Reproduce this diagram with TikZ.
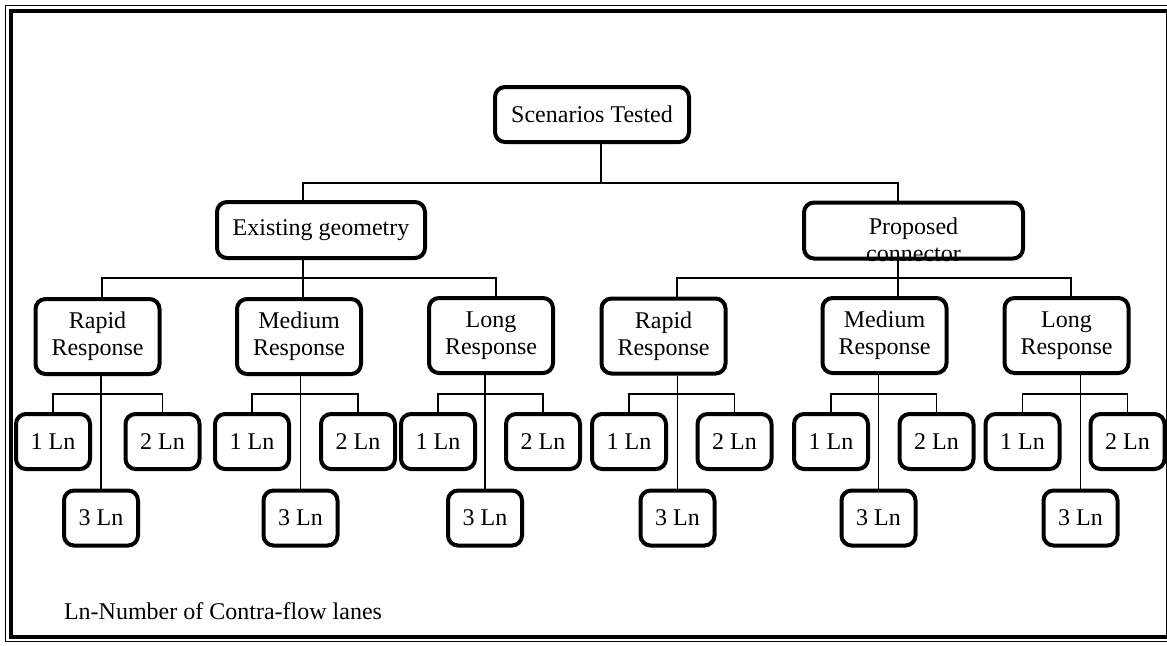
\documentclass[tikz,border=0pt]{standalone}
\usepackage{fontspec}
\setmainfont{Liberation Serif}
\usetikzlibrary{positioning,calc}

\begin{document}
\begin{tikzpicture}[
    x=0.5pt, y=-0.5pt,
    font=\fontsize{12}{13.5}\selectfont,
    % Stil für alle Boxen
    tbox/.style={
      rectangle,
      rounded corners=5pt,
      draw=black,
      line width=2pt,
      fill=white,
      align=center,
      inner sep=1pt
    },
    % Oberste Box
    topbox/.style={tbox, minimum width=97pt, minimum height=27.5pt},
    % Geometrie-Boxen
    geobox/.style={tbox, minimum width=104pt, minimum height=28pt},
    % Reaktions-Boxen
    respbox/.style={tbox, minimum width=62pt, minimum height=37.5pt},
    % Fahrstreifen-Boxen
    lnbox/.style={tbox, minimum width=37pt, minimum height=27.5pt},
    % Verbindungslinien
    conn/.style={line width=0.6pt}
  ]

  % --- RAHMEN ---
  \clip (0,0) rectangle (1167,645);
  \useasboundingbox (0,0) rectangle (1167,645);
  \draw[line width=0.5pt] (5.5,5) rectangle (1180,641.5);
  \draw[line width=1.75pt] (11,11) rectangle (1180,637);
  \draw[line width=0.5pt] (1166,11) -- (1166,637);

  % --- KNOTEN ---
  \node[topbox] (scen) at (592,114.5) {Scenarios Tested};

  \node[geobox] (exist) at (321,230) {Existing geometry};
  \node[geobox, minimum width=109.5pt,
    label={[align=center, yshift=-4.75pt]center:{Proposed\\connector}}]
    (prop) at (913.5,230.5) {};

  \node[respbox] (rapL) at (97.5,336.5) {Rapid\\Response};
  \node[respbox] (medL) at (299,336.5) {Medium\\Response};
  \node[respbox] (lngL) at (491,335.5) {Long\\Response};
  \node[respbox] (rapR) at (663.5,336) {Rapid\\Response};
  \node[respbox] (medR) at (884.5,335.5) {Medium\\Response};
  \node[respbox] (lngR) at (1066.5,335.5) {Long\\Response};

  % Fahrstreifen je Reaktion
  \foreach \g/\xa/\xb/\xc in {rapL/53/162.5/101, medL/252/358/300.5,
      lngL/438/543/485, rapR/629/734.5/677.5, medR/831/936.5/878.5,
      lngR/1022.5/1127.5/1080.5} {
    \node[lnbox] (\g1) at (\xa,441.5) {1 Ln};
    \node[lnbox] (\g2) at (\xb,441.5) {2 Ln};
    \node[lnbox] (\g3) at (\xc,518) {3 Ln};
    \draw[conn] (\g.south -| \g3.north) -- (\g3.north);
    \draw[conn] (\g1.north) |- (\g3.north |- 0,394) -| (\g2.north);
  }

  % Legende
  \node[anchor=base west] (note) at (57,619) {Ln-Number of Contra-flow lanes};

  % --- VERBINDUNGEN ---
  \coordinate (busT) at (601,183);
  \coordinate (busE) at (303,278);
  \coordinate (busP) at (898,278);

  \draw[conn] (scen.south -| busT) -- (busT);
  \draw[conn] (exist.north -| busE) |- (busT) -| (prop.north -| busP);

  \draw[conn] (exist.south -| busE) -- (busE) -- (busE |- medL.north);
  \draw[conn] ([xshift=2.25pt]rapL.north) |- (busE) -| ([xshift=2.5pt]lngL.north);

  \draw[conn] (prop.south -| busP) -- (busP) -- (busP |- medR.north);
  \draw[conn] ([xshift=6.75pt]rapR.north) |- (busP) -| ([xshift=2.25pt]lngR.north);

\end{tikzpicture}
\end{document}
